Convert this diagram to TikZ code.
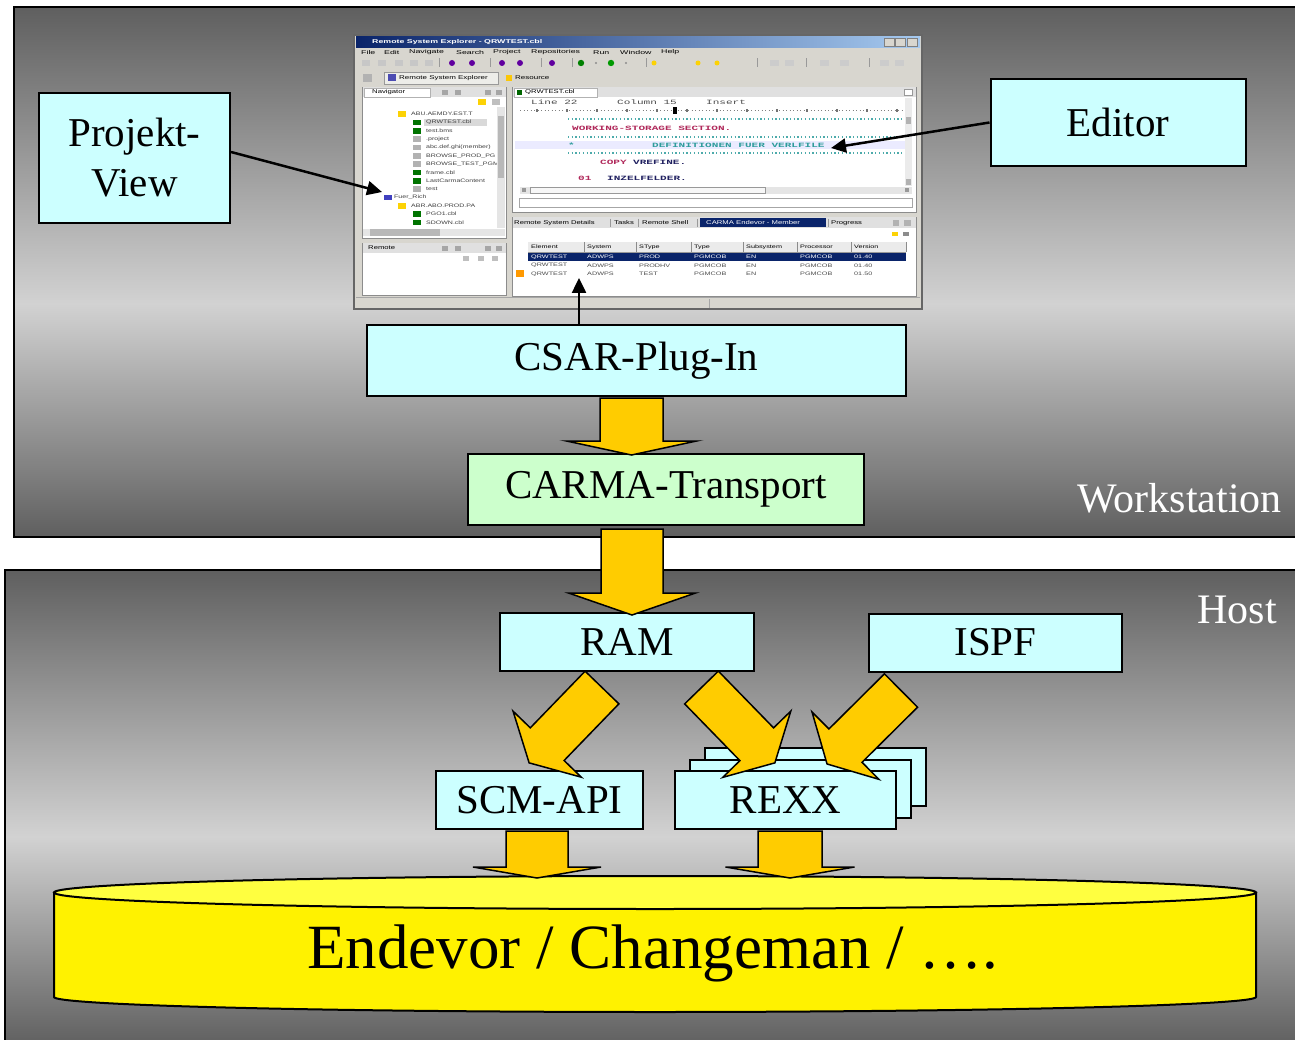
\documentclass[tikz,border=0pt]{standalone}
\usepackage{fontspec}
\setmainfont{Liberation Serif}
\setsansfont{Liberation Sans}
\setmonofont{Liberation Mono}
\usetikzlibrary{calc,arrows.meta}
\definecolor{pdark}{HTML}{5F5F5F}
\definecolor{plight}{HTML}{D2D2D2}
\definecolor{boxcyan}{HTML}{CCFFFF}
\definecolor{boxgreen}{HTML}{CCFFCC}
\definecolor{arrowfill}{HTML}{FFCC00}
\definecolor{dbtop}{HTML}{FFFF40}
\definecolor{winbg}{HTML}{D8D6CF}
\definecolor{tbdark}{HTML}{0A246A}
\definecolor{tblight}{HTML}{A6CAF0}
\definecolor{kwred}{HTML}{B0285A}
\definecolor{cmteal}{HTML}{2E9C9C}
\definecolor{codenavy}{HTML}{202060}
\pgfdeclareverticalshading{panelshade}{100bp}{color(0bp)=(pdark); color(25bp)=(pdark); color(47bp)=(plight); color(75bp)=(pdark); color(100bp)=(pdark)}
\newcommand\sx[2][1.5]{\scalebox{#1}[1]{#2}}
\newcommand\mx[1]{\scalebox{1.7}[1]{#1}}
\newcommand\blockarr[5]{%
  \path let \p1=(#1), \p2=(#2) in
    \pgfextra{%
      \pgfmathsetmacro\baAng{atan2(\y2-\y1,\x2-\x1)}%
      \pgfmathsetmacro\baLen{veclen(\x2-\x1,\y2-\y1)}%
      \xdef\baAngG{\baAng}\xdef\baLenG{\baLen}};
  \begin{scope}[shift={(#1)}, rotate=\baAngG]
    \path[barrow] (0,-#3) -- ({\baLenG-#5},-#3) -- ({\baLenG-#5},-#4) -- (\baLenG,0)
       -- ({\baLenG-#5},#4) -- ({\baLenG-#5},#3) -- (0,#3) -- cycle;
  \end{scope}}
\begin{document}
\begin{tikzpicture}[x=1pt,y=-1pt,
  box/.style={draw=black, line width=2pt, fill=boxcyan, inner sep=0pt, align=center, font=\fontsize{41}{50}\selectfont},
  lbl/.style={text=white, inner sep=0pt, font=\fontsize{42}{50}\selectfont},
  barrow/.style={fill=arrowfill, draw=black, line width=1.5pt, line join=miter},
  conn/.style={line width=2.5pt, -{Triangle[length=15pt,width=14pt]}},
  ui/.style={inner sep=0pt, anchor=west, font=\fontsize{5.5}{6}\selectfont\sffamily},
  code/.style={inner sep=0pt, anchor=west, font=\fontsize{6.5}{7}\selectfont\ttfamily\bfseries},
  pane/.style={fill=white, draw=black!45, line width=0.6pt},
]
\useasboundingbox (0,0) rectangle (1295,1040);
\clip (0,0) rectangle (1295,1040);
\fill[white] (0,0) rectangle (1295,1040);
% panels
\shadedraw[shading=panelshade, line width=2pt] (14,7) rectangle (1310,537);
\shadedraw[shading=panelshade, line width=2pt] (5,570) rectangle (1310,1046);
\node[lbl, anchor=base east] (wslbl) at (1282,512) {Workstation};
\node[lbl, anchor=base east] (hostlbl) at (1277,623) {Host};

% ---------------- screenshot ----------------
\fill[winbg] (354,35) rectangle (922,309);
\draw[line width=1.2pt, black!60] (354,35) rectangle (922,309);
\shade[left color=tbdark, middle color=tbdark!75!tblight, right color=tblight] (356,37) rectangle (920,47.5);
\node[ui, text=white, font=\fontsize{5.5}{6}\selectfont\sffamily\bfseries] (sstitle) at (372,42.2) {\sx[1.6]{Remote System Explorer - QRWTEST.cbl}};
\foreach \bx in {884,895,907} \draw[fill=winbg, draw=black!50, line width=0.4pt] (\bx,38.5) rectangle ++(10,7.5);
\foreach \mxx/\mt in {361/File,384/Edit,409/Navigate,456/Search,493/Project,531/Repositories,593/Run,620/Window,661/Help}
  \node[ui] (menu\mxx) at (\mxx,52.5) {\sx[1.6]{\mt}};
% toolbar
\foreach \ix in {362,378,395,410,425} \fill[black!22] (\ix,60) rectangle ++(8,6);
\foreach \ix in {452,472,502,520,552} \fill[violet!75!blue] (\ix,63) circle (3);
\fill[green!50!black] (581,63) circle (3.2);
\fill[green!60!black] (611,63) circle (3.2);
\foreach \ix in {596,626} \fill[black!45] (\ix,63) circle (1.2);
\foreach \ix in {654,698,717} \fill[yellow!70!orange] (\ix,63) circle (2.5);
\foreach \ix in {770,785,820,840,880,895} \fill[black!20] (\ix,60) rectangle ++(9,6);
\foreach \sxx in {439,490,541,572,646,757,806,869} \draw[black!40, line width=0.6pt] (\sxx,58.5) -- (\sxx,67.5);
% perspective row
\fill[black!30] (363,74) rectangle (372,82);
\draw[fill=white!55!winbg, draw=black!40, line width=0.5pt] (384,72) rectangle (498,84);
\fill[blue!40!gray] (388,74.5) rectangle (396,81.5);
\node[ui] (ptab) at (399,78) {\sx[1.45]{Remote System Explorer}};
\fill[yellow!60!orange] (506,75) rectangle (512,81);
\node[ui] (ptab2) at (515,78) {\sx[1.45]{Resource}};
% navigator
\draw[pane] (362,87) rectangle (506,238);
\fill[black!12] (362.5,87.5) rectangle (505.5,97);
\draw[fill=white, draw=black!30, line width=0.4pt] (364,88) rectangle (430,97);
\node[ui] (navt) at (372,92.5) {\sx[1.4]{Navigator}};
\foreach \ix in {442,455,485,496} \fill[black!35] (\ix,90) rectangle ++(6,5);
\fill[yellow!70!orange] (478,99) rectangle (486,105);
\fill[black!25] (492,99) rectangle (500,105);
\fill[black!15] (424,119) rectangle (487,126.5);
\begin{scope}
\clip (363,106) rectangle (496,228);
\foreach \ty/\ix/\tx/\tn/\ic in {
  114/398/411/ABU.AEMDY.EST.T/yellow!70!orange,
  122.5/413/426/QRWTEST.cbl/green!45!black,
  131/413/426/test.bms/green!45!black,
  139/413/426/.project/black!30,
  147.5/413/426/abc.def.ghi(member)/black!30,
  156/413/426/BROWSE\_PROD\_PG/black!30,
  164/413/426/BROWSE\_TEST\_PGM/black!30,
  172.5/413/426/frame.cbl/green!45!black,
  181/413/426/LastCarmaContent/green!45!black,
  189/413/426/test/black!30,
  197.5/384/394/Fuer\_Rich/blue!50!gray,
  206/398/411/ABR.ABO.PROD.PA/yellow!70!orange,
  214/413/426/PGO1.cbl/green!45!black,
  222.5/413/426/SDOWN.cbl/green!45!black}
{
  \fill[\ic] (\ix,\ty-2.8) rectangle ++(8,5.6);
  \node[ui, text=black!75, font=\fontsize{5}{6}\selectfont\sffamily] (tree\ty) at (\tx,\ty) {\sx[1.4]{\tn}};
}
\end{scope}
\fill[black!10] (497,107) rectangle (504.5,228);
\fill[black!28] (497.5,116) rectangle (504,178);
\fill[black!10] (363,229) rectangle (505,236.5);
\fill[black!28] (370,229.5) rectangle (440,236);
% remote panel
\draw[pane] (362,243) rectangle (506,295);
\fill[black!12] (362.5,243.5) rectangle (505.5,253);
\node[ui] (remt) at (368,248) {\sx[1.4]{Remote}};
\foreach \ix in {442,455,485,496} \fill[black!35] (\ix,246) rectangle ++(6,5);
\foreach \ix in {463,478,492} \fill[black!25] (\ix,256) rectangle ++(6,5);
% editor
\draw[pane] (512,87) rectangle (916,212);
\fill[black!12] (512.5,87.5) rectangle (915.5,97);
\draw[fill=white, draw=black!30, line width=0.4pt] (514,88) rectangle (597,97);
\fill[green!40!black] (517,90) rectangle (522,95);
\node[ui] (edtab) at (525,92.5) {\sx[1.4]{QRWTEST.cbl}};
\draw[black!40, fill=white, line width=0.4pt] (904,89) rectangle (912,95);
\node[code, text=black!70, font=\fontsize{6.5}{7}\selectfont\ttfamily] (rul1) at (531,102) {\mx{Line 22}};
\node[code, text=black!70, font=\fontsize{6.5}{7}\selectfont\ttfamily] (rul2) at (617,102) {\mx{Column 15}};
\node[code, text=black!70, font=\fontsize{6.5}{7}\selectfont\ttfamily] (rul3) at (706,102) {\mx{Insert}};
\draw[black!50, line width=1pt, dash pattern=on 1pt off 2.5pt] (520,111) -- (903,111);
\foreach \ix in {536,566,596,626,656,686,716,746,776,806,836,866,896} \fill[black!55] (\ix,109.5) rectangle ++(1.6,3);
\fill[black] (673,107.5) rectangle (677,114);
\fill[blue!8] (515,141) rectangle (912,149.5);
\foreach \dy in {119,137,153} \draw[cmteal!85, line width=1.3pt, dash pattern=on 1.3pt off 2.4pt] (568,\dy) -- (903,\dy);
\node[code, text=kwred] (c1) at (572,128.5) {\mx{WORKING-STORAGE SECTION.}};
\node[code, text=cmteal] (c2) at (568,145.5) {\mx{*}};
\node[code, text=cmteal] (c3) at (652,145.5) {\mx{DEFINITIONEN FUER VERLFILE}};
\node[code, text=kwred] (c4) at (600,162) {\mx{COPY}};
\node[code, text=codenavy] (c5) at (633,162) {\mx{VREFINE.}};
\node[code, text=kwred] (c6) at (578,178.5) {\mx{01}};
\node[code, text=codenavy] (c7) at (607,178.5) {\mx{INZELFELDER.}};
\fill[black!8] (905,98) rectangle (912,186);
\fill[black!30] (906,117) rectangle (911,124);
\fill[black!30] (906,179) rectangle (911,185);
\fill[black!10] (520,187) rectangle (912,194);
\draw[fill=black!3, draw=black!40, line width=0.4pt] (530,187.5) rectangle (765,193.5);
\fill[black!40] (522,188.5) rectangle (526,192.5);
\fill[black!40] (905,188.5) rectangle (909,192.5);
\draw[fill=white, draw=black!35, line width=0.5pt] (519,198) rectangle (912,207);
% bottom panel
\draw[pane] (512,217) rectangle (916,296);
\fill[black!12] (512.5,217.5) rectangle (915.5,228);
\node[ui] (bt1) at (514,223) {\sx[1.4]{Remote System Details}};
\node[ui] (bt2) at (614,223) {\sx[1.4]{Tasks}};
\node[ui] (bt3) at (642,223) {\sx[1.4]{Remote Shell}};
\foreach \ix in {610,638,697,828} \draw[black!40, line width=0.5pt] (\ix,219) -- (\ix,227.5);
\fill[tbdark] (700,218.5) rectangle (826,227.5);
\node[ui, text=white] (bt4) at (706,223) {\sx[1.4]{CARMA Endevor - Member}};
\node[ui] (bt5) at (831,223) {\sx[1.4]{Progress}};
\fill[black!30] (893,220) rectangle (899,226);
\fill[black!30] (904,220) rectangle (911,226);
\fill[yellow!70!orange] (892,232) rectangle (898,236);
\fill[black!45] (903,232) rectangle (909,236);
\fill[black!8] (528,242) rectangle (906,252);
\draw[black!40, line width=0.5pt] (528,252) -- (906,252);
\foreach \ix in {584,636,691,743,797,851,906} \draw[black!45, line width=0.5pt] (\ix,242) -- (\ix,252);
\foreach \ix/\hh in {531/Element,587/System,639/SType,694/Type,746/Subsystem,800/Processor,854/Version}
  \node[ui, font=\fontsize{5}{6}\selectfont\sffamily] (th\ix) at (\ix,247) {\sx[1.45]{\hh}};
\fill[tbdark] (528,253) rectangle (906,261);
\foreach \ix/\hh in {531/QRWTEST,587/ADWPS,639/PROD,694/PGMCOB,746/EN,800/PGMCOB,854/01.40}
  \node[ui, text=white, font=\fontsize{5}{6}\selectfont\sffamily] (ra\ix) at (\ix,257) {\sx[1.45]{\hh}};
\foreach \ix/\hh in {531/QRWTEST,587/ADWPS,639/PRODHV,694/PGMCOB,746/EN,800/PGMCOB,854/01.40}
  \node[ui, text=black!70, font=\fontsize{5}{6}\selectfont\sffamily] (rb\ix) at (\ix,265.5) {\sx[1.45]{\hh}};
\foreach \ix/\hh in {531/QRWTEST,587/ADWPS,639/TEST,694/PGMCOB,746/EN,800/PGMCOB,854/01.50}
  \node[ui, text=black!70, font=\fontsize{5}{6}\selectfont\sffamily] (rc\ix) at (\ix,274) {\sx[1.45]{\hh}};
\fill[orange!80!yellow] (516,270.5) rectangle (524,277);
\draw[black!35, line width=0.5pt] (356,297.5) -- (920,297.5);
\draw[black!35, line width=0.5pt] (709,299) -- (709,308);

% ---------------- boxes ----------------
\node[box, minimum width=191pt, minimum height=130pt] (pv) at (134.5,158) {Projekt-\\View};
\node[box, minimum width=255pt, minimum height=87pt] (ed) at (1118,122.5) {Editor};
\node[box, minimum width=539pt, minimum height=71pt] (csar) at (636.5,360.5) {CSAR-Plug-In};
\node[box, fill=boxgreen, minimum width=396pt, minimum height=71pt] (carma) at (666,489.5) {CARMA-Transport};
\node[box, minimum width=254pt, minimum height=58pt] (ram) at (627,641.5) {RAM};
\node[box, minimum width=253pt, minimum height=58pt] (ispf) at (995.5,642.5) {ISPF};
\node[box, minimum width=207pt, minimum height=58pt] (scm) at (539.5,800) {SCM-API};
\node[box, minimum width=221pt, minimum height=58pt] (rexxb2) at (815.5,777) {};
\node[box, minimum width=221pt, minimum height=58pt] (rexxb1) at (800.5,788.5) {};
\node[box, minimum width=221pt, minimum height=58pt] (rexx) at (785.5,800) {REXX};

% ---------------- database cylinder ----------------
\path[fill=yellow, draw=black, line width=2pt] (54,892.5) -- (54,997) -- plot[domain=180:360, samples=90, smooth] ({655+601*cos(\x)},{997-15*sin(\x)}) -- (1256,892.5) -- cycle;
\draw[fill=dbtop, line width=2pt] (655,892.5) ellipse [x radius=601, y radius=16.5];
\node[inner sep=0pt, anchor=base, font=\fontsize{63}{70}\selectfont] (db) at (653,968) {Endevor / Changeman / ….};

% ---------------- block arrows ----------------
\coordinate (v1a) at (631.5,398);  \coordinate (v1b) at (631.5,455);
\coordinate (v2a) at (632,529);    \coordinate (v2b) at (632,615);
\coordinate (v3a) at (537,831);    \coordinate (v3b) at (537,878);
\coordinate (v4a) at (790,831);    \coordinate (v4b) at (790,878);
\coordinate (dAa) at (602,687.5);  \coordinate (dAb) at (529,763);
\coordinate (dBa) at (701.5,687.5);\coordinate (dBb) at (775,763);
\coordinate (dCa) at (901,690.5);  \coordinate (dCb) at (827,764);
\blockarr{v1a}{v1b}{31.5}{65}{14}
\blockarr{v2a}{v2b}{31}{63.5}{22}
\blockarr{v3a}{v3b}{31}{64}{11}
\blockarr{v4a}{v4b}{32}{64.5}{11}
\blockarr{dAa}{dAb}{23.5}{47.5}{26}
\blockarr{dBa}{dBb}{23.5}{47.5}{26}
\blockarr{dCa}{dCb}{23.5}{47.5}{26}

% ---------------- pointer arrows ----------------
\coordinate (pvtip) at (382,192);
\coordinate (edtip) at (831,148);
\coordinate (cstip) at (579,278);
\draw[conn] ($(pv.east)+(0,-6)$) -- (pvtip);
\draw[conn] (ed.west) -- (edtip);
\draw[conn] (csar.north -| cstip) -- (cstip);
\end{tikzpicture}
\end{document}
